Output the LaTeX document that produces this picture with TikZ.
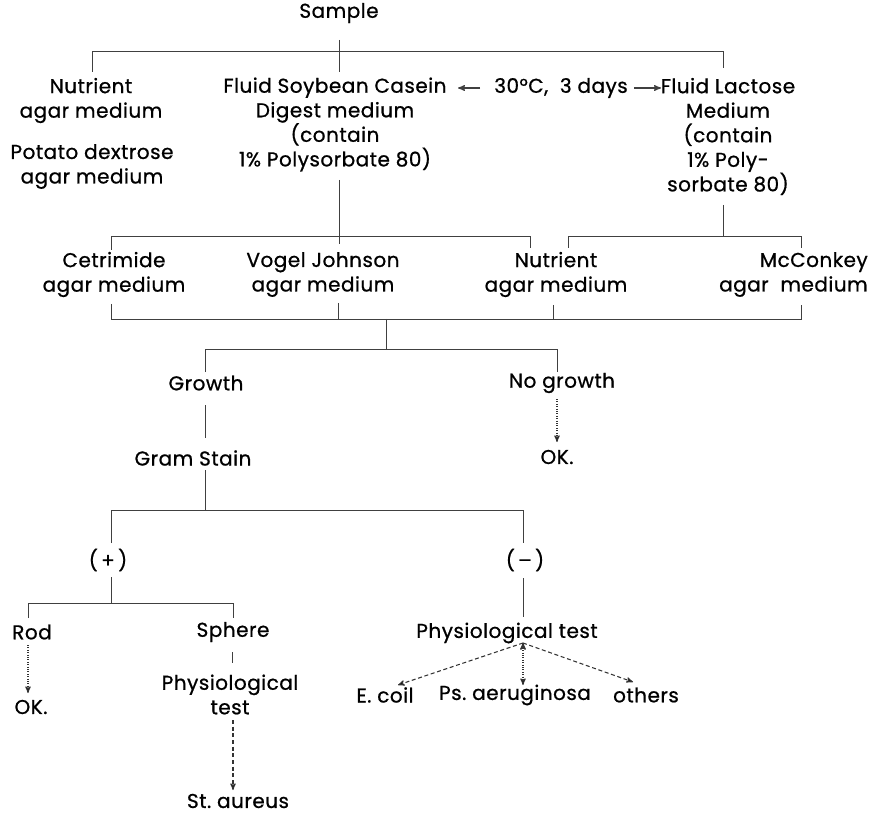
\documentclass[tikz,border=0pt]{standalone}
\usepackage{fontspec}
\setmainfont{Poppins}[FakeBold=0.8,LetterSpace=2.5]
\usetikzlibrary{arrows,positioning}
\tikzset{>=stealth',auto}
\tikzset{lbl/.style={align=center,inner sep=0pt,font=\fontsize{15}{18.4}\selectfont}}
\tikzset{br/.style={draw=black!75,line width=0.6pt}}
\tikzset{dots/.style={->,draw=black!80,densely dotted,line width=0.8pt}}
\tikzset{dashes/.style={->,draw=black!80,dash pattern=on 3pt off 2pt,line width=0.8pt}}
\begin{document}
\begin{tikzpicture}[x=0.75pt,y=-0.75pt]
\useasboundingbox (0,0) rectangle (872,813);
% media
\node[lbl] (smp)  at (339,13)    {Sample};
\node[lbl] (nut1) at (91,100.5)  {Nutrient\\agar medium};
\node[lbl] (pot)  at (92,166.5)  {Potato dextrose\\agar medium};
\node[lbl] (soy)  at (335,124.5) {Fluid Soybean Casein\\Digest medium\\(contain\\1\% Polysorbate 80)};
\node[lbl] (cond) at (561,88)    {30°C,\ \ 3 days};
\node[lbl] (lac)  at (728,136.5) {Fluid Lactose\\Medium\\(contain\\1\% Poly-\\sorbate 80)};
\node[lbl] (cet)  at (114,274.5) {Cetrimide\\agar medium};
\node[lbl] (vog)  at (323,274.5) {Vogel Johnson\\agar medium};
\node[lbl] (nut2) at (556,274.5) {Nutrient\\agar medium};
\node[lbl,align=right,anchor=east] (mcc) at (868,274.5) {McConkey\\agar\ \ medium};
% results
\node[lbl] (grw)   at (206,383) {Growth};
\node[lbl] (nogr)  at (562,383) {No growth};
\node[lbl] (ok1)   at (557,457) {OK.};
\node[lbl] (gram)  at (193,458) {Gram Stain};
\node[lbl] (pos)   at (108,560) {(\,+\,)};
\node[lbl] (neg)   at (525,560) {(\,–\,)};
\node[lbl] (rod)   at (32,632)  {Rod};
\node[lbl] (sph)   at (233,632) {Sphere};
\node[lbl] (ok2)   at (31,707)  {OK.};
\node[lbl] (phys1) at (230,694.5) {Physiological\\test};
\node[lbl] (aur)   at (238,801) {St.\ aureus};
\node[lbl] (phys2) at (507,633) {Physiological test};
\node[lbl] (eco)   at (385,695) {E.\ coil};
\node[lbl] (psa)   at (515,695) {Ps.\ aeruginosa};
\node[lbl] (oth)   at (646,695) {others};

% junctions
\coordinate (a0) at (339,40);  \coordinate (a1) at (339,72);
\coordinate (aL) at (92,72);   \coordinate (aR) at (723,68);
\coordinate (aY) at (0,51);
\coordinate (b0) at (339,180); \coordinate (b1) at (339,244);
\coordinate (c0) at (723,205); \coordinate (c1) at (723,236);
\coordinate (d1) at (111,250); \coordinate (d2) at (530,248);
\coordinate (e1) at (568,248); \coordinate (e2) at (801,248);
\coordinate (f1) at (111,304); \coordinate (f2) at (338,303);
\coordinate (f3) at (553,305); \coordinate (f4) at (801,305);
\coordinate (fY) at (386,319); \coordinate (g0) at (386,349);
\coordinate (gL) at (205,372); \coordinate (gR) at (557,372);
\coordinate (h0) at (205,405); \coordinate (h1) at (205,438);
\coordinate (i0) at (205,470); \coordinate (i1) at (205,510);
\coordinate (iL) at (111,543); \coordinate (iR) at (523,543);
\coordinate (k0) at (111,577); \coordinate (k1) at (111,603);
\coordinate (kL) at (28,618);  \coordinate (kR) at (233,618);
\coordinate (m0) at (523,578); \coordinate (m1) at (523,617);
\coordinate (n0) at (232,652); \coordinate (n1) at (232,663);
\coordinate (p0) at (557,399); \coordinate (p1) at (557,442);
\coordinate (q0) at (28,645);  \coordinate (q1) at (28,693);
\coordinate (r0) at (233,720); \coordinate (r1) at (233,790);
\coordinate (s0) at (523,643);
\coordinate (s1) at (398,685); \coordinate (s2) at (523,685); \coordinate (s3) at (633,682);
\coordinate (u0) at (480,88);  \coordinate (u1) at (458,88);
\coordinate (v0) at (634,88);  \coordinate (v1) at (661,88);

% brackets
\draw[br] (a0) -- (a1);
\draw[br] (aL) -- (aL |- aY) -- (aR |- aY) -- (aR);
\draw[br] (b0) -- (b1);
\draw[br] (c0) -- (c1);
\draw[br] (d1) -- (d1 |- c1) -- (d2 |- c1) -- (d2);
\draw[br] (e1) -- (e1 |- c1) -- (e2 |- c1) -- (e2);
\draw[br] (f1) -- (f1 |- fY) -- (f4 |- fY) -- (f4);
\draw[br] (f2) -- (f2 |- fY);
\draw[br] (f3) -- (f3 |- fY);
\draw[br] (fY) -- (g0);
\draw[br] (gL) -- (gL |- g0) -- (gR |- g0) -- (gR);
\draw[br] (h0) -- (h1);
\draw[br] (i0) -- (i1);
\draw[br] (iL) -- (iL |- i1) -- (iR |- i1) -- (iR);
\draw[br] (k0) -- (k1);
\draw[br] (kL) -- (kL |- k1) -- (kR |- k1) -- (kR);
\draw[br] (m0) -- (m1);
\draw[br] (n0) -- (n1);

% arrows
\draw[->,br,line width=0.9pt] (u0) -- (u1);
\draw[->,br,line width=0.9pt] (v0) -- (v1);
\path[dots] (p0) edge (p1)
            (q0) edge (q1)
            (s0) edge (s2);
\path[dashes] (r0) edge (r1)
              (s0) edge (s1)
              (s0) edge (s3);
\end{tikzpicture}
\end{document}
